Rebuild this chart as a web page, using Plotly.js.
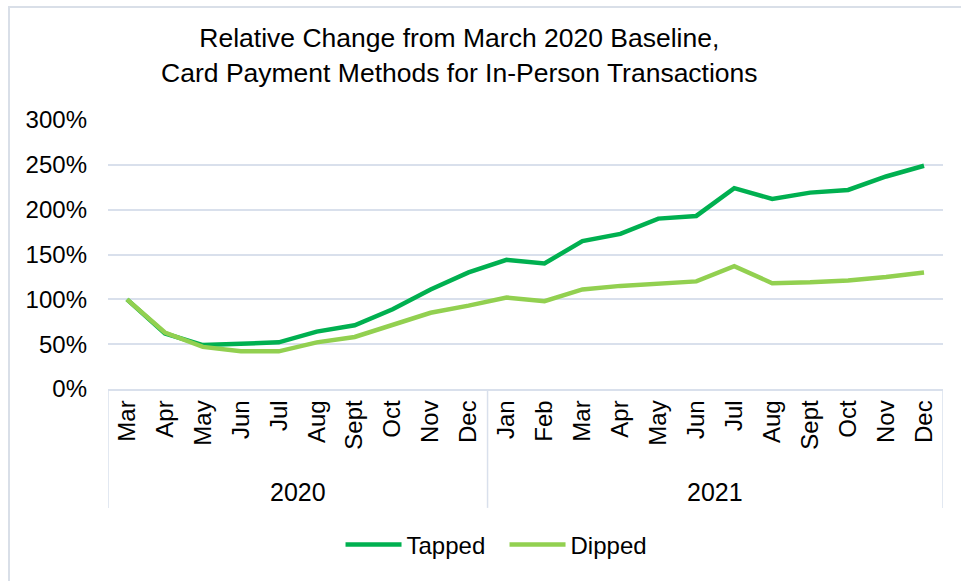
<!DOCTYPE html>
<html>
<head>
<meta charset="utf-8">
<script src="https://cdn.plot.ly/plotly-3.0.1.min.js"></script>
<style>
  body { margin: 0; background: #ffffff; overflow: hidden; }
  #box { position: absolute; left: 0; top: 0; width: 961px; height: 581px; }
  #frame { position: absolute; left: 8px; top: 6px; width: 1000px; height: 1000px;
           border: 2px solid #d9dfe8; pointer-events: none; }
</style>
</head>
<body>
<div id="box"></div>
<div id="frame"></div>
<script>
'use strict'

// months and the year each one falls in
var years = ['2020','2020','2020','2020','2020','2020','2020','2020','2020','2020',
             '2021','2021','2021','2021','2021','2021','2021','2021','2021','2021','2021','2021'];
var months = ['Mar','Apr','May','Jun','Jul','Aug','Sept','Oct','Nov','Dec',
              'Jan','Feb','Mar','Apr','May','Jun','Jul','Aug','Sept','Oct','Nov','Dec'];

// % of March 2020 level
var tapped = [100, 62, 49, 51, 52, 64, 71, 89, 111, 130,
              144, 140, 165, 173, 190, 193, 224, 212, 219, 222, 237, 249];
var dipped = [100, 63, 47, 42, 42, 52, 58, 71, 85, 93,
              102, 98, 111, 115, 118, 120, 137, 118, 119, 121, 125, 130];

var gridColor = '#d9e0ec';
var font = 'Liberation Sans, Arial, sans-serif';

function drawChart(){
    // unique category per month, shown with the month name only
    var keys = [];
    for(var i = 0; i < months.length; i++){
        keys.push(years[i] + ' ' + months[i]);
    }

    // year groups: label in the middle, divider lines at the edges
    var annotations = [];
    var shapes = [];
    var start = 0;
    for(var i = 1; i <= years.length; i++){
        if(i === years.length || years[i] !== years[start]){
            annotations.push({
                text: years[start],
                x: (start + i - 1) / 2,
                xref: 'x',
                y: -0.383,
                yref: 'paper',
                yanchor: 'middle',
                showarrow: false,
                font: {size: 25}
            });
            shapes.push({
                type: 'line', xref: 'x', yref: 'paper',
                x0: start - 0.5, x1: start - 0.5, y0: 0, y1: -0.442,
                line: {color: gridColor, width: 1.5}
            });
            start = i;
        }
    }
    shapes.push({
        type: 'line', xref: 'x', yref: 'paper',
        x0: years.length - 0.5, x1: years.length - 0.5, y0: 0, y1: -0.442,
        line: {color: gridColor, width: 1.5}
    });

    var tappedTrace = {
        type: 'scatter',
        mode: 'lines',
        name: 'Tapped',
        x: keys,
        y: tapped,
        line: {color: '#00b050', width: 4.5}
    }

    var dippedTrace = {
        type: 'scatter',
        mode: 'lines',
        name: 'Dipped',
        x: keys,
        y: dipped,
        line: {color: '#92d050', width: 4.5}
    }

    var layout = {
        width: 961,
        height: 581,
        margin: {l: 108, r: 18, t: 120, b: 192},
        paper_bgcolor: '#ffffff',
        plot_bgcolor: '#ffffff',
        font: {family: font, color: '#000000', size: 24},
        title: {
            text: 'Relative Change from March 2020 Baseline,<br>Card Payment Methods for In-Person Transactions',
            font: {size: 26.5, color: '#000000'},
            x: 0.478,
            xref: 'container',
            xanchor: 'center',
            y: 0.919,
            yref: 'container',
            yanchor: 'top'
        },
        xaxis: {
            type: 'category',
            tickvals: keys,
            ticktext: months,
            tickangle: -90,
            range: [-0.5, months.length - 0.5],
            showline: true,
            linecolor: gridColor,
            linewidth: 1.5,
            showgrid: false,
            ticks: '',
            tickfont: {size: 24}
        },
        yaxis: {
            range: [0, 300],
            dtick: 50,
            ticksuffix: '%',
            showgrid: true,
            gridcolor: gridColor,
            gridwidth: 1.5,
            zeroline: false,
            showline: false,
            ticks: '',
            ticklabelstandoff: 20,
            tickfont: {size: 24}
        },
        annotations: annotations,
        shapes: shapes,
        showlegend: true,
        legend: {
            orientation: 'h',
            x: 0.525,
            xref: 'container',
            xanchor: 'center',
            y: 0.062,
            yref: 'container',
            yanchor: 'middle',
            font: {size: 24},
            itemwidth: 56,
            entrywidth: 93,
            bgcolor: 'rgba(0,0,0,0)'
        }
    };

    Plotly.newPlot('box', [tappedTrace, dippedTrace], layout, {displayModeBar: false});
}

drawChart();
</script>
</body>
</html>
